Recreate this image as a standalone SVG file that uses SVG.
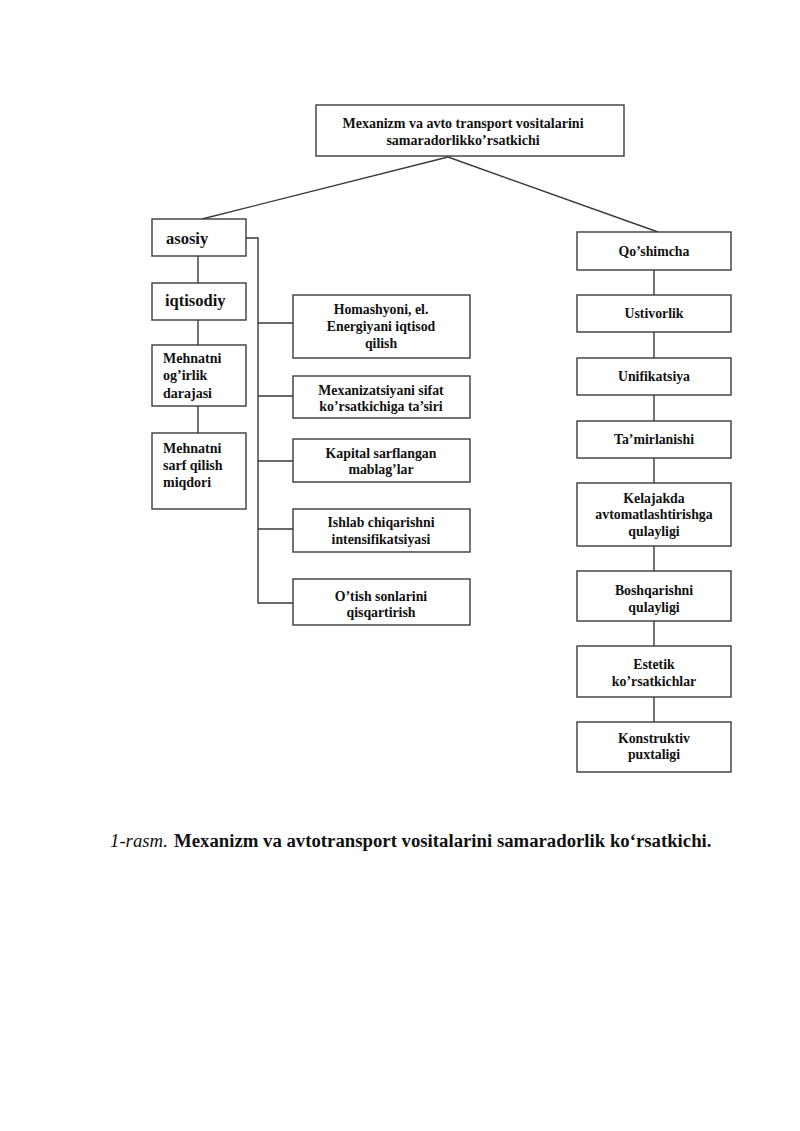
<svg xmlns="http://www.w3.org/2000/svg" width="800" height="1131" viewBox="0 0 800 1131">
<style>
.box{fill:#fff;stroke:#3a3a3a;stroke-width:1.4}
.ln{fill:none;stroke:#3a3a3a;stroke-width:1.4}
.t{font-family:"Liberation Serif",serif;font-weight:bold;fill:#111;font-size:13.8px}
.c{text-anchor:middle}
.top{font-size:14px}
.l{font-size:14px}
.big{font-size:16.5px}
.cap{font-family:"Liberation Serif",serif;font-size:18.75px;fill:#111}
</style>
<rect width="800" height="1131" fill="#fff"/>
<g id="connectors">
<line class="ln" x1="448" y1="157" x2="202" y2="219"/>
<line class="ln" x1="448" y1="157" x2="658" y2="232"/>
<polyline class="ln" points="246,238 258,238 258,603 293,603"/>
<line class="ln" x1="258" y1="323" x2="293" y2="323"/>
<line class="ln" x1="258" y1="396" x2="293" y2="396"/>
<line class="ln" x1="258" y1="461" x2="293" y2="461"/>
<line class="ln" x1="258" y1="529" x2="293" y2="529"/>
<line class="ln" x1="198" y1="256" x2="198" y2="283"/>
<line class="ln" x1="198" y1="320" x2="198" y2="345"/>
<line class="ln" x1="198" y1="406" x2="198" y2="433"/>
<line class="ln" x1="654" y1="270" x2="654" y2="295"/>
<line class="ln" x1="654" y1="332" x2="654" y2="358"/>
<line class="ln" x1="654" y1="395" x2="654" y2="421"/>
<line class="ln" x1="654" y1="458" x2="654" y2="483"/>
<line class="ln" x1="654" y1="546" x2="654" y2="571"/>
<line class="ln" x1="654" y1="621" x2="654" y2="646"/>
<line class="ln" x1="654" y1="697" x2="654" y2="722"/>
</g>
<g id="root">
<rect class="box" x="316" y="105" width="308" height="51"/>
<text class="t c top" x="463" y="128">Mexanizm va avto transport vositalarini</text>
<text class="t c top" x="463" y="145">samaradorlikko’rsatkichi</text>
</g>
<g id="asosiy">
<rect class="box" x="152" y="219" width="94" height="37"/>
<text class="t big" x="166" y="244">asosiy</text>
</g>
<g id="iqtisodiy">
<rect class="box" x="152" y="283" width="94" height="37"/>
<text class="t big" x="165" y="306">iqtisodiy</text>
</g>
<g id="mehnat1">
<rect class="box" x="152" y="345" width="94" height="61"/>
<text class="t l" x="163" y="363">Mehnatni</text>
<text class="t l" x="163" y="380">og’irlik</text>
<text class="t l" x="163" y="398">darajasi</text>
</g>
<g id="mehnat2">
<rect class="box" x="152" y="433" width="94" height="76"/>
<text class="t l" x="163" y="453">Mehnatni</text>
<text class="t l" x="163" y="470">sarf qilish</text>
<text class="t l" x="163" y="487">miqdori</text>
</g>
<g id="homashyo">
<rect class="box" x="293" y="295" width="177" height="63"/>
<text class="t c" x="381" y="314">Homashyoni, el.</text>
<text class="t c" x="381" y="331">Energiyani iqtisod</text>
<text class="t c" x="381" y="348">qilish</text>
</g>
<g id="mexanizatsiya">
<rect class="box" x="293" y="376" width="177" height="42"/>
<text class="t c" x="381" y="395">Mexanizatsiyani sifat</text>
<text class="t c" x="381" y="411">ko’rsatkichiga ta’siri</text>
</g>
<g id="kapital">
<rect class="box" x="293" y="439" width="177" height="43"/>
<text class="t c" x="381" y="458">Kapital sarflangan</text>
<text class="t c" x="381" y="474">mablag’lar</text>
</g>
<g id="ishlab">
<rect class="box" x="293" y="509" width="177" height="43"/>
<text class="t c" x="381" y="527">Ishlab chiqarishni</text>
<text class="t c" x="381" y="544">intensifikatsiyasi</text>
</g>
<g id="otish">
<rect class="box" x="293" y="579" width="177" height="46"/>
<text class="t c" x="381" y="601">O’tish sonlarini</text>
<text class="t c" x="381" y="617">qisqartirish</text>
</g>
<g id="qoshimcha">
<rect class="box" x="577" y="232" width="154" height="38"/>
<text class="t c" x="654" y="256">Qo’shimcha</text>
</g>
<g id="ustivorlik">
<rect class="box" x="577" y="295" width="154" height="37"/>
<text class="t c" x="654" y="318">Ustivorlik</text>
</g>
<g id="unifikatsiya">
<rect class="box" x="577" y="358" width="154" height="37"/>
<text class="t c" x="654" y="381">Unifikatsiya</text>
</g>
<g id="tamirlanishi">
<rect class="box" x="577" y="421" width="154" height="37"/>
<text class="t c" x="654" y="444">Ta’mirlanishi</text>
</g>
<g id="kelajakda">
<rect class="box" x="577" y="483" width="154" height="63"/>
<text class="t c" x="654" y="503">Kelajakda</text>
<text class="t c" x="654" y="519">avtomatlashtirishga</text>
<text class="t c" x="654" y="536">qulayligi</text>
</g>
<g id="boshqarish">
<rect class="box" x="577" y="571" width="154" height="50"/>
<text class="t c" x="654" y="595">Boshqarishni</text>
<text class="t c" x="654" y="612">qulayligi</text>
</g>
<g id="estetik">
<rect class="box" x="577" y="646" width="154" height="51"/>
<text class="t c" x="654" y="669">Estetik</text>
<text class="t c" x="654" y="686">ko’rsatkichlar</text>
</g>
<g id="konstruktiv">
<rect class="box" x="577" y="722" width="154" height="50"/>
<text class="t c" x="654" y="743">Konstruktiv</text>
<text class="t c" x="654" y="759">puxtaligi</text>
</g>
<g id="caption">
<text class="cap" x="110" y="847" font-family="'Liberation Sans',sans-serif" font-style="italic" font-size="17">1-rasm.</text>
<text class="cap" x="174" y="847" font-weight="bold">Mexanizm va avtotransport vositalarini samaradorlik ko‘rsatkichi.</text>
</g>
</svg>
